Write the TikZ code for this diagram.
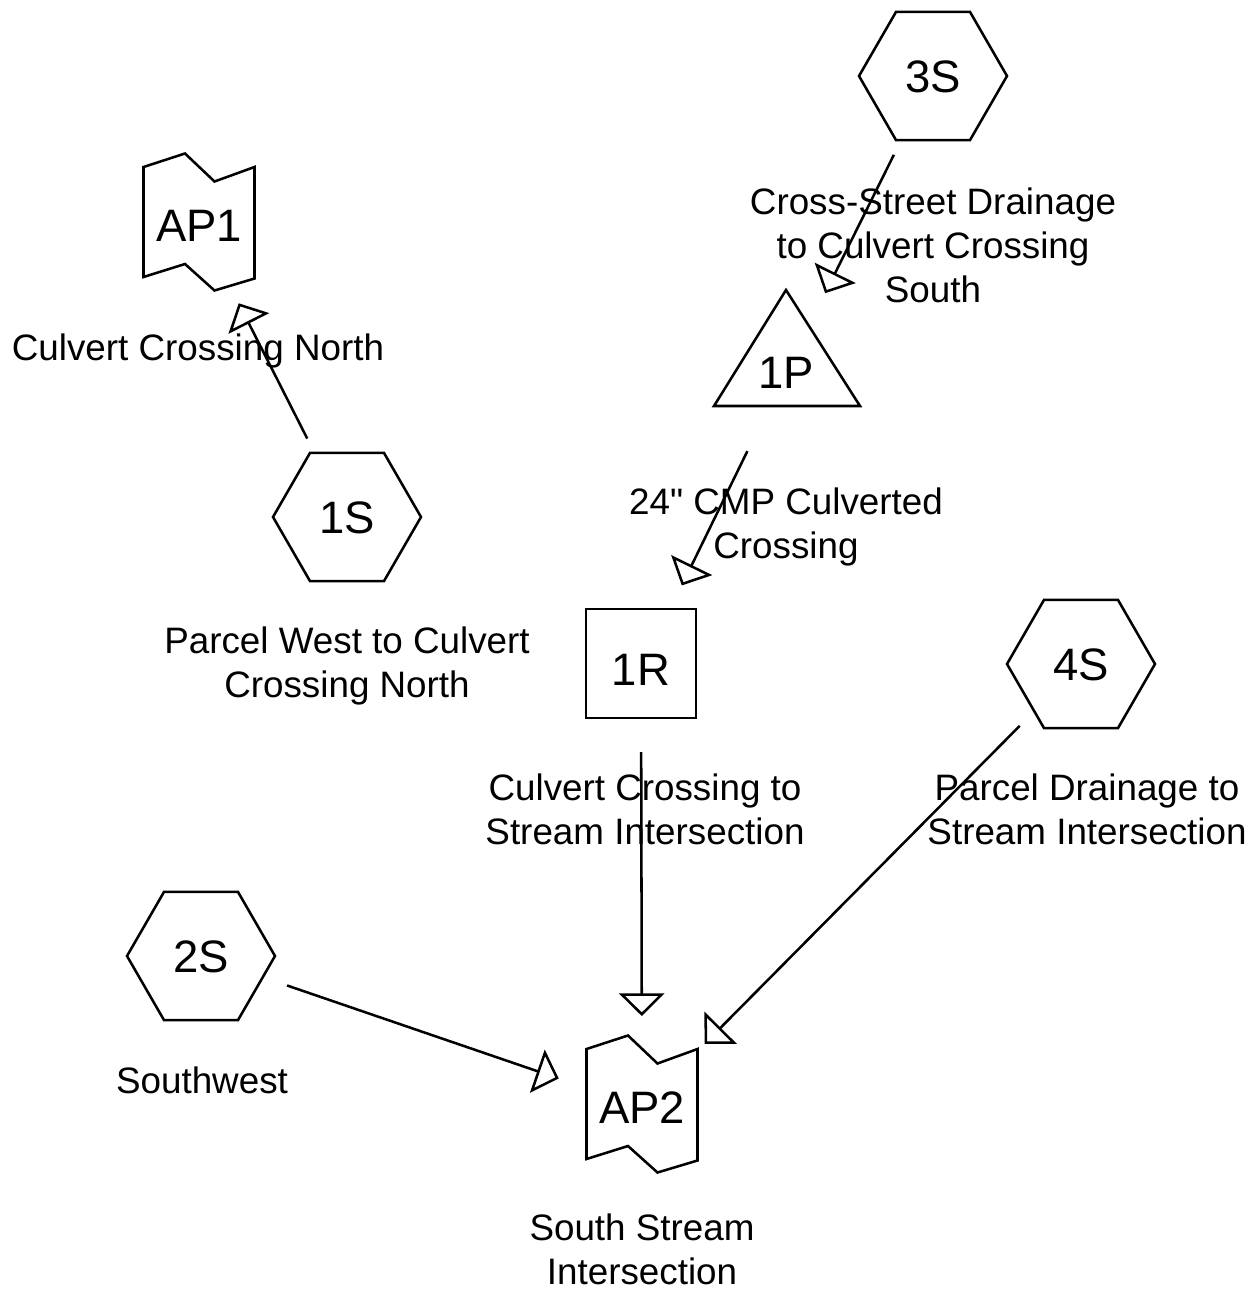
\documentclass[tikz,border=0pt]{standalone}
\usepackage{fontspec}
\setmainfont{Liberation Sans}[Ligatures=TeXOff]
\usetikzlibrary{arrows.meta,shapes.geometric}
\begin{document}
\begin{tikzpicture}[x=0.75pt,y=-0.75pt,
  line width=1.9pt,
  idtext/.style={font=\fontsize{34.1pt}{40pt}\selectfont, inner sep=0pt, text height=24.4pt, text depth=0pt},
  hexnode/.style={idtext, draw, regular polygon, regular polygon sides=6, minimum size=111pt},
  lbl/.style={font=\fontsize{27.6pt}{33pt}\selectfont, align=center, inner sep=0pt, text height=20.25pt, text depth=6pt},
  flow/.style={-{Triangle[open,length=17pt,width=34pt]}},
]
\fill[white] (0,0) rectangle (1257,1299);
\useasboundingbox (0,0) rectangle (1257,1299);

% nodes
\node[hexnode] (3S) at (933,76) {3S};
\node[hexnode] (1S) at (347,517) {1S};
\node[hexnode] (4S) at (1081,664) {4S};
\node[hexnode] (2S) at (201,956) {2S};
\node[idtext] (AP1) at (199,225) {AP1};
\node[idtext] (AP2) at (642,1107) {AP2};
\node[idtext] (1P) at (786,372) {1P};
\node[idtext] (1R) at (641,669) {1R};

% shapes
\begin{scope}[shift={(AP1.center)}]
\draw (-55.5,-58) -- (-14,-71.5) -- (15.5,-43.5) -- (55.5,-58) -- (55.5,53.5) -- (15.5,65.5) -- (-14,39) -- (-55.5,52) -- cycle;
\end{scope}
\begin{scope}[shift={(AP2.center)}]
\draw (-55.5,-58) -- (-14,-71.5) -- (15.5,-43.5) -- (55.5,-58) -- (55.5,53.5) -- (15.5,65.5) -- (-14,39) -- (-55.5,52) -- cycle;
\end{scope}
\draw ([shift={(0,-82)}]1P.center) -- ([shift={(-72,34)}]1P.center) -- ([shift={(74,34)}]1P.center) -- cycle;
\draw ([shift={(-55,-60)}]1R.center) rectangle ([shift={(55,49)}]1R.center);

% labels
\node[lbl] (lAP1) at (198,350.5) {Culvert Crossing North};
\node[lbl] (l1S) at (347,687.5) {Parcel West to Culvert\\Crossing North};
\node[lbl] (l2S) at (202,1083.5) {Southwest};
\node[lbl] (l3S) at (933,292.5) {Cross-Street Drainage\\to Culvert Crossing\\South};
\node[lbl] (l1P) at (786,549) {24" CMP Culverted\\Crossing};
\node[lbl] (l1R) at (645,835) {Culvert Crossing to\\Stream Intersection};
\node[lbl] (l4S) at (1087,835) {Parcel Drainage to\\Stream Intersection};
\node[lbl] (lAP2) at (642,1275) {South Stream\\Intersection};

% connectors
\draw[flow, shorten <=66pt, shorten >=65.8pt] (1S.center) -- (AP1.center);
\draw[flow, shorten <=66pt, shorten >=66pt] (3S.center) -- (1P.center);
\draw[flow, shorten <=66pt, shorten >=69.75pt] (1P.center) -- (1R.center);
\draw[flow, shorten <=62.25pt, shorten >=68.25pt] (1R.center) -- (AP2.center);
\draw[flow, shorten <=65.25pt, shorten >=66.75pt] (4S.center) -- (AP2.center);
\draw[flow, shorten <=68.25pt, shorten >=66pt] (2S.center) -- (AP2.center);
\end{tikzpicture}
\end{document}
